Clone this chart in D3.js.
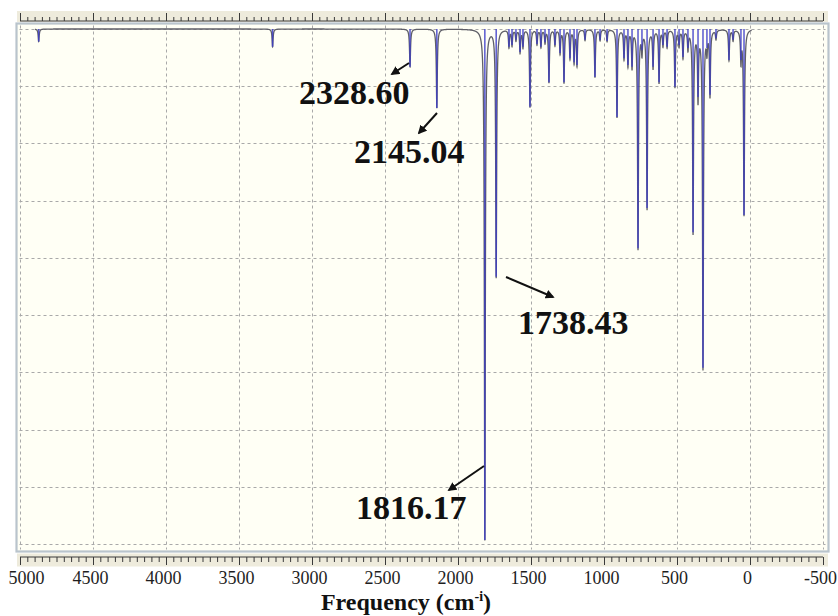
<!DOCTYPE html>
<html>
<head>
<meta charset="utf-8">
<script src="https://cdn.jsdelivr.net/npm/d3@7"></script>
<style>
  html, body { margin: 0; padding: 0; background: #ffffff; }
  svg { display: block; }
</style>
</head>
<body>
<svg id="chart" width="838" height="616"></svg>
<script>
// Computed IR frequencies (cm-1) and intensities (arbitrary units)
const peakFreqs = [4872, 3270, 2328.60, 2145.04, 1816.17, 1738.43,
  1651, 1630, 1603, 1575, 1555, 1507, 1459, 1432, 1404, 1377, 1336, 1301, 1274,
  1233, 1205, 1185, 1130, 1062, 1027, 979, 911, 863, 836, 808, 767, 740, 705,
  664, 623, 596, 568, 514, 486, 459, 425, 390, 356, 322, 295, 274, 233, 144, 116, 62, 41];
const peakIntensities = [22, 31, 66, 138, 893, 433,
  31, 28, 19, 40, 31, 136, 26, 31, 23, 93, 28, 42, 93,
  51, 58, 63, 19, 84, 19, 21, 154, 51, 63, 66, 383, 37, 313,
  66, 93, 28, 31, 101, 28, 49, 33, 355, 119, 592, 33, 115, 16, 54, 19, 54, 325];

// Peaks called out with their frequency
const labelledFreqs = [2328.60, 2145.04, 1738.43, 1816.17];

// Axis ticks
const majorTicks = d3.range(5000, -501, -500);
const minorTicks = d3.range(5000, -501, -50);
const gridLevels = d3.range(0, 901, 100);

// ---- layout ----
const frame = { left: 16.5, top: 23.5, right: 828.5, bottom: 551.5 };
const svg = d3.select("#chart");
const x = d3.scaleLinear().domain([5000, -500]).range([20, 823]);
const y = d3.scaleLinear().domain([0, 900]).range([29, 544]);
const serif = "'Liberation Serif', 'Times New Roman', serif";

// plot background and frame
svg.append("rect")
  .attr("x", frame.left).attr("y", frame.top)
  .attr("width", frame.right - frame.left).attr("height", frame.bottom - frame.top)
  .attr("fill", "#fffff5").attr("stroke", "#b9c4cc").attr("stroke-width", 2.2);

// ruler bands
svg.append("rect").attr("x", 17).attr("y", 11).attr("width", 811).attr("height", 11)
  .attr("fill", "#eeebdc");
svg.append("rect").attr("x", 17).attr("y", 553.5).attr("width", 811).attr("height", 13)
  .attr("fill", "#eeebdc");

// grid
const grid = svg.append("g").attr("stroke", "#a9a9a9").attr("stroke-width", 1)
  .attr("stroke-dasharray", "3,3");
grid.selectAll("line.v").data(majorTicks).join("line").attr("class", "v")
  .attr("x1", d => Math.round(x(d)) + 0.5).attr("x2", d => Math.round(x(d)) + 0.5)
  .attr("y1", frame.top + 2).attr("y2", frame.bottom - 2);
grid.selectAll("line.h").data(gridLevels).join("line").attr("class", "h")
  .attr("x1", frame.left + 3).attr("x2", frame.right - 3)
  .attr("y1", d => Math.round(y(d)) + 0.5).attr("y2", d => Math.round(y(d)) + 0.5);

// rulers built from d3 axes
function ruler(axisFn, yPos, ticks, size) {
  const g = svg.append("g").attr("transform", `translate(0,${yPos})`)
    .call(axisFn(x).tickValues(ticks).tickSize(size).tickFormat(""));
  g.select(".domain").remove();
  g.selectAll(".tick line").attr("stroke", "#3a3a3a").attr("stroke-width", 1);
  return g;
}
// top ruler: ticks rise from the baseline
ruler(d3.axisTop, 21, minorTicks, 4);
ruler(d3.axisTop, 21, majorTicks, 8);
svg.append("line").attr("x1", x(5000)).attr("x2", x(-500)).attr("y1", 21).attr("y2", 21)
  .attr("stroke", "#3a3a3a");

// bottom ruler: ticks hang from the baseline
ruler(d3.axisBottom, 557, minorTicks, 5);
ruler(d3.axisBottom, 557, majorTicks, 8);
svg.append("line").attr("x1", x(5000)).attr("x2", x(-500)).attr("y1", 557).attr("y2", 557)
  .attr("stroke", "#3a3a3a");

// tick labels
const labelAxis = svg.append("g").attr("transform", "translate(-3,584)")
  .call(d3.axisBottom(x).tickValues(majorTicks).tickSize(0).tickPadding(0)
    .tickFormat(d => String(d)));
labelAxis.select(".domain").remove();
labelAxis.selectAll("text")
  .attr("dy", 0).attr("y", 0)
  .attr("dx", (d, i) => i === 0 ? 9 : 0)
  .attr("font-family", serif).attr("font-size", 18).attr("fill", "#1e1e1e");

// axis title
const title = svg.append("text").attr("x", 406).attr("y", 610)
  .attr("text-anchor", "middle").attr("font-family", serif)
  .attr("font-size", 24).attr("font-weight", "bold").attr("fill", "#111");
title.append("tspan").text("Frequency (cm");
title.append("tspan").attr("dy", -9).attr("font-size", 14).text("-i");
title.append("tspan").attr("dy", 9).text(")");

// broadened spectrum (Lorentzian sum of the computed peaks)
const peaks = peakFreqs.map((f, i) => ({ f, I: peakIntensities[i] }));
const hwhm = 4;
const curveFreqs = d3.range(4897, -12, -0.25);
const curve = curveFreqs.map(f => {
  let s = 0;
  for (const p of peaks) {
    const d = f - p.f;
    s += p.I * hwhm * hwhm / (d * d + hwhm * hwhm);
  }
  return [f, Math.min(s, 900)];
});
svg.append("path").datum(curve)
  .attr("fill", "none").attr("stroke", "#5f5f68").attr("stroke-width", 1.3)
  .attr("d", d3.line().x(d => x(d[0])).y(d => y(d[1])));

// stick spectrum
svg.append("g").selectAll("line").data(peaks).join("line")
  .attr("x1", d => x(d.f)).attr("x2", d => x(d.f))
  .attr("y1", y(0)).attr("y2", d => y(d.I))
  .attr("stroke", "#3c3cc8").attr("stroke-width", 1.5).attr("stroke-opacity", 0.85);

// callouts
const calloutLayout = [
  { tx: 299, ty: 104, from: [409, 63], to: [392, 74] },
  { tx: 354, ty: 163, from: [437, 113], to: [419, 133] },
  { tx: 518, ty: 334, from: [506, 277], to: [553, 297] },
  { tx: 356, ty: 519, from: [484, 466], to: [449, 490] }
];
svg.append("defs").append("marker").attr("id", "head")
  .attr("viewBox", "0 0 10 10").attr("refX", 8).attr("refY", 5)
  .attr("markerWidth", 4.5).attr("markerHeight", 4.5).attr("orient", "auto")
  .append("path").attr("d", "M0,0 L10,5 L0,10 z").attr("fill", "#111");
const callouts = svg.append("g");
labelledFreqs.forEach((f, i) => {
  const c = calloutLayout[i];
  callouts.append("line")
    .attr("x1", c.from[0]).attr("y1", c.from[1]).attr("x2", c.to[0]).attr("y2", c.to[1])
    .attr("stroke", "#111").attr("stroke-width", 2).attr("marker-end", "url(#head)");
  callouts.append("text").attr("x", c.tx).attr("y", c.ty)
    .attr("font-family", serif).attr("font-size", 34).attr("font-weight", "bold")
    .attr("fill", "#111").text(f.toFixed(2));
});
</script>
</body>
</html>
